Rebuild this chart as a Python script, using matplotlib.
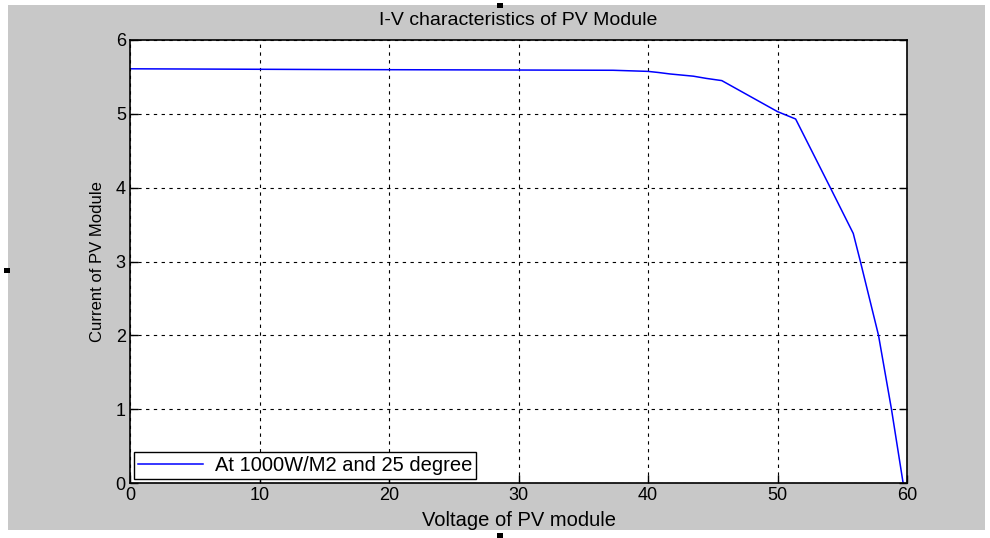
import matplotlib
matplotlib.use("Agg")
import matplotlib.pyplot as plt
from matplotlib.patches import Rectangle

# I-V curve (voltage in V, current in A)
voltage = [0.0, 15.2, 37.3, 40.0, 40.8, 41.7, 43.5, 44.5, 45.7, 50.0, 51.4,
           54.05, 55.85, 56.4, 57.8, 58.8, 59.7]
current = [5.61, 5.60, 5.59, 5.575, 5.56, 5.54, 5.51, 5.48, 5.45, 5.03, 4.93,
           4.01, 3.38, 3.0, 2.0, 1.0, 0.0]

x_ticks = [0, 10, 20, 30, 40, 50, 60]
y_ticks = [0, 1, 2, 3, 4, 5, 6]

TITLE = "I-V characteristics of PV Module"
XLABEL = "Voltage of PV module"
YLABEL = "Current of PV Module"
LEGEND = "At 1000W/M2 and 25 degree"

plt.rcParams["font.family"] = ["Liberation Sans", "DejaVu Sans"]

fig = plt.figure(figsize=(9.9, 5.38), dpi=100, facecolor="white")
W, H = 990, 538

# grey window background with a thin white margin
fig.patches.append(Rectangle((8 / W, 8 / H), 977 / W, 525 / H,
                             transform=fig.transFigure, facecolor="#c8c8c8",
                             edgecolor="none", zorder=-10))
# little selection handles
for hx, hy in [(4, 268), (497, 533), (497, 3)]:
    fig.patches.append(Rectangle((hx / W, (H - hy - 5) / H), 6 / W, 5 / H,
                                 transform=fig.transFigure, facecolor="black",
                                 edgecolor="none", zorder=10))

ax = fig.add_axes([130 / W, 55 / H, 777 / W, 443 / H])
ax.set_facecolor("white")

ax.plot(voltage, current, color="#0000ff", lw=1.1, label=LEGEND)

ax.set_xlim(0, 60)
ax.set_ylim(0, 6)
ax.set_xticks(x_ticks)
ax.set_yticks(y_ticks)
ax.tick_params(direction="in", top=False, right=True, length=6, width=1,
               labelsize=13, colors="black", pad=3)
ax.grid(True, color="black", ls=(0, (3, 4)), lw=0.8)
for s in ax.spines.values():
    s.set_linewidth(1.2)
    s.set_color("black")

ax.set_title(TITLE, fontsize=14, pad=11)
ax.set_xlabel(XLABEL, fontsize=14.5, labelpad=5)
ax.set_ylabel(YLABEL, fontsize=12, labelpad=8)

leg = ax.legend(loc="lower left", fontsize=14.5, frameon=True, fancybox=False,
                borderaxespad=0.2, handlelength=3.2, borderpad=0.2,
                handletextpad=0.6)
leg.get_frame().set_edgecolor("black")
leg.get_frame().set_linewidth(1.0)
leg.get_frame().set_alpha(1)

fig.savefig("out.png", dpi=100, facecolor="white")
